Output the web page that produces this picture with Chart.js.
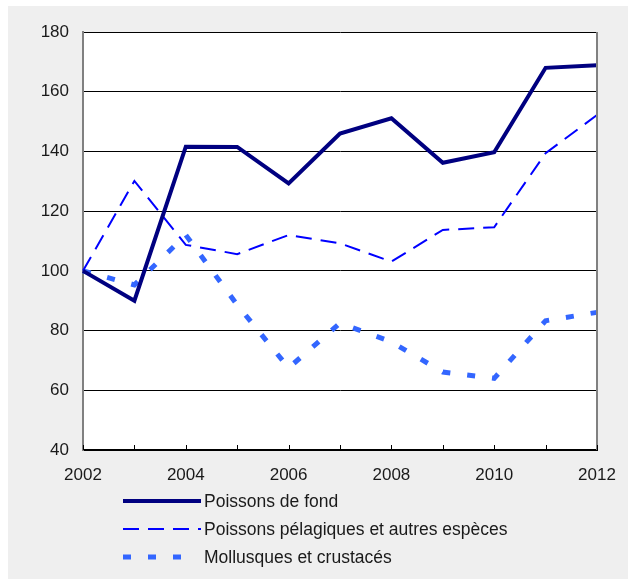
<!DOCTYPE html>
<html>
<head>
<meta charset="utf-8">
<script src="https://cdn.jsdelivr.net/npm/chart.js@4/dist/chart.umd.min.js"></script>
<style>
  html, body { margin: 0; padding: 0; background: #ffffff; }
  #wrap { width: 628px; height: 579px; }
</style>
</head>
<body>
<div id="wrap"><canvas id="indexChart" width="628" height="579"></canvas></div>
<script>
const years = ['2002', '2003', '2004', '2005', '2006', '2007', '2008', '2009', '2010', '2011', '2012'];
const fondValues = [100, 90, 141.6, 141.5, 129.3, 146, 151.1, 136.2, 139.7, 168, 168.9];
const pelagiquesValues = [100, 130.1, 108.7, 105.6, 112, 109.2, 103.1, 113.7, 114.6, 139.4, 152.2];
const mollusquesValues = [100, 95.3, 112, 88.6, 67.5, 82.5, 76.2, 66.1, 64, 83.3, 86.1];
const yTicks = [40, 60, 80, 100, 120, 140, 160, 180];

const FONT = 'Liberation Sans, Arial, sans-serif';

// gray panel behind everything
const panelBackground = {
    id: 'panelBackground',
    beforeDraw(chart) {
        const ctx = chart.ctx;
        ctx.save();
        ctx.fillStyle = '#ffffff';
        ctx.fillRect(0, 0, chart.width, chart.height);
        ctx.fillStyle = '#efefef';
        ctx.fillRect(8, 6, chart.width - 8, chart.height - 6);
        const a = chart.chartArea;
        ctx.fillStyle = '#ffffff';
        ctx.fillRect(a.left, a.top, a.right - a.left, a.bottom - a.top);
        ctx.restore();
    }
};

// right frame line and small inward tick marks on the year axis
const frameAndTicks = {
    id: 'frameAndTicks',
    afterDatasetsDraw(chart) {
        const ctx = chart.ctx;
        const a = chart.chartArea;
        const x = chart.scales.x;
        ctx.save();
        ctx.strokeStyle = '#808080';
        ctx.lineWidth = 2;
        ctx.beginPath();
        ctx.moveTo(a.right, a.top);
        ctx.lineTo(a.right, a.bottom);
        ctx.stroke();
        ctx.strokeStyle = '#000000';
        ctx.lineWidth = 1;
        ctx.beginPath();
        years.forEach((y, i) => {
            const px = Math.round(x.getPixelForValue(i)) + 0.5;
            ctx.moveTo(px, a.bottom);
            ctx.lineTo(px, a.bottom - 5);
        });
        ctx.stroke();
        ctx.restore();
    }
};

// stacked legend below the axis
const legendRows = [501, 529, 557];
const legendEnds = [201, 201, 187];
const stackedLegend = {
    id: 'stackedLegend',
    afterDraw(chart) {
        const ctx = chart.ctx;
        ctx.save();
        ctx.font = '17.5px ' + FONT;
        ctx.textBaseline = 'middle';
        ctx.textAlign = 'left';
        chart.data.datasets.forEach((ds, i) => {
            const y = legendRows[i];
            ctx.strokeStyle = ds.borderColor;
            ctx.lineWidth = ds.borderWidth;
            ctx.setLineDash(ds.borderDash || []);
            ctx.lineCap = 'butt';
            ctx.beginPath();
            ctx.moveTo(123, y);
            ctx.lineTo(legendEnds[i], y);
            ctx.stroke();
            ctx.setLineDash([]);
            ctx.fillStyle = '#1a1a1a';
            ctx.fillText(ds.label, 204, y + 1);
        });
        ctx.restore();
    }
};

const ctx = document.getElementById('indexChart').getContext('2d');
new Chart(ctx, {
    type: 'line',
    data: {
        labels: years,
        datasets: [
            {
                label: 'Poissons de fond',
                data: fondValues,
                borderColor: '#000080',
                borderWidth: 4,
                pointRadius: 0,
                tension: 0
            },
            {
                label: 'Poissons pélagiques et autres espèces',
                data: pelagiquesValues,
                borderColor: '#0000ff',
                borderWidth: 2,
                borderDash: [16, 9],
                pointRadius: 0,
                tension: 0
            },
            {
                label: 'Mollusques et crustacés',
                data: mollusquesValues,
                borderColor: '#3366ff',
                borderWidth: 5,
                borderDash: [8, 17],
                pointRadius: 0,
                tension: 0
            }
        ]
    },
    options: {
        responsive: false,
        animation: false,
        layout: { padding: { left: 8, right: 31, top: 32, bottom: 91 } },
        scales: {
            x: {
                type: 'category',
                offset: false,
                afterFit: (s) => {
                    s.height = 38;
                    s.paddingLeft = 0;
                    s.paddingRight = 0;
                },
                grid: { display: false, drawTicks: false },
                border: { display: true, color: '#000000', width: 2 },
                ticks: {
                    autoSkip: false,
                    maxRotation: 0,
                    padding: 15,
                    color: '#1a1a1a',
                    font: { family: FONT, size: 17 },
                    callback: function (v, i) {
                        return i % 2 === 0 ? years[i] : '';
                    }
                }
            },
            y: {
                min: 40,
                max: 180,
                afterFit: (s) => { s.width = 75; },
                afterBuildTicks: (s) => { s.ticks = yTicks.map(v => ({ value: v })); },
                grid: { color: '#000000', lineWidth: 1, drawTicks: false },
                border: { display: true, color: '#808080', width: 2 },
                ticks: {
                    padding: 14,
                    color: '#1a1a1a',
                    font: { family: FONT, size: 17 }
                }
            }
        },
        plugins: {
            legend: { display: false },
            tooltip: { enabled: false }
        }
    },
    plugins: [panelBackground, frameAndTicks, stackedLegend]
});
</script>
</body>
</html>
